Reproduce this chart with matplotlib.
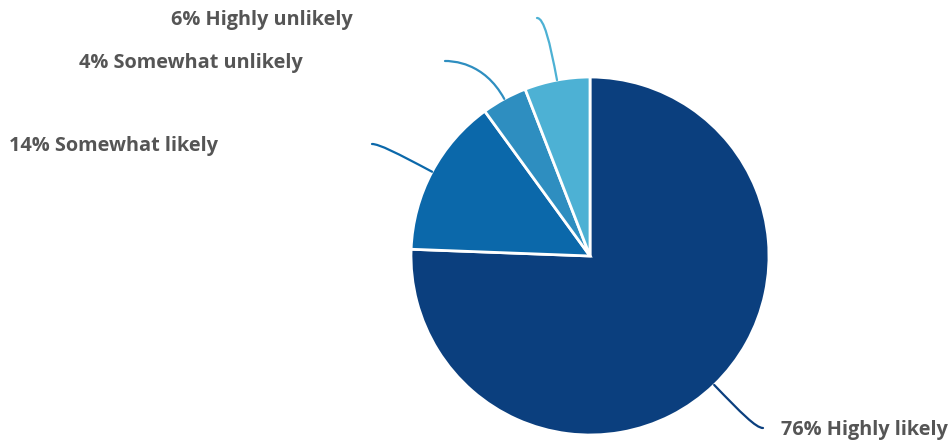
import numpy as np
import matplotlib.pyplot as plt
from matplotlib.path import Path
from matplotlib.patches import PathPatch

labels = ['Highly likely', 'Somewhat likely', 'Somewhat unlikely', 'Highly unlikely']
values = [75.6, 14.4, 4.1, 5.9]
colors = ['#0b3f7e', '#0b68aa', '#2e8ec0', '#4db1d4']

# label layout in pixels (image coords: x, y from top), line end points
line_ends = [(763, 428), (372, 144), (445, 61), (537, 18)]
text_pos = [(781, 430), (218, 146), (303, 63), (353, 20)]
text_ha = ['left', 'right', 'right', 'right']

W, H = 953, 445
cx, cy, r = 590, 256, 179

fig = plt.figure(figsize=(W / 100, H / 100), dpi=100)
ax = fig.add_axes([0, 0, 1, 1])
ax.set_xlim(0, W)
ax.set_ylim(0, H)
ax.axis('off')

wedges, _ = ax.pie(values, colors=colors, startangle=90, counterclock=False,
                   center=(cx, H - cy), radius=r,
                   wedgeprops=dict(edgecolor='white', linewidth=2))
ax.set_xlim(0, W)
ax.set_ylim(0, H)
ax.set_aspect('auto')

total = sum(values)
cum = np.cumsum([0] + values[:-1])
for i, v in enumerate(values):
    frac = (cum[i] + v / 2) / total
    ang = 2 * np.pi * frac
    dx, dy = np.sin(ang), np.cos(ang)  # y up
    sx, sy = cx + r * dx, (H - cy) + r * dy
    ex, ey = line_ends[i][0], H - line_ends[i][1]
    L = np.hypot(ex - sx, ey - sy)
    side = 1 if ex < sx else -1
    p1 = (sx + dx * 0.6 * L, sy + dy * 0.6 * L)
    p2 = (ex + side * 7, ey)
    path = Path([(sx, sy), p1, p2, (ex, ey)],
                [Path.MOVETO, Path.CURVE4, Path.CURVE4, Path.CURVE4])
    ax.add_patch(PathPatch(path, fill=False, edgecolor=colors[i], linewidth=1.6,
                           capstyle='round'))
    tx, ty = text_pos[i]
    ax.text(tx, H - ty, f'{round(v)}% {labels[i]}', ha=text_ha[i], va='center',
            fontsize=14.3, fontweight='bold', family='Open Sans', color='#555555')

fig.savefig('out.png', dpi=100)
